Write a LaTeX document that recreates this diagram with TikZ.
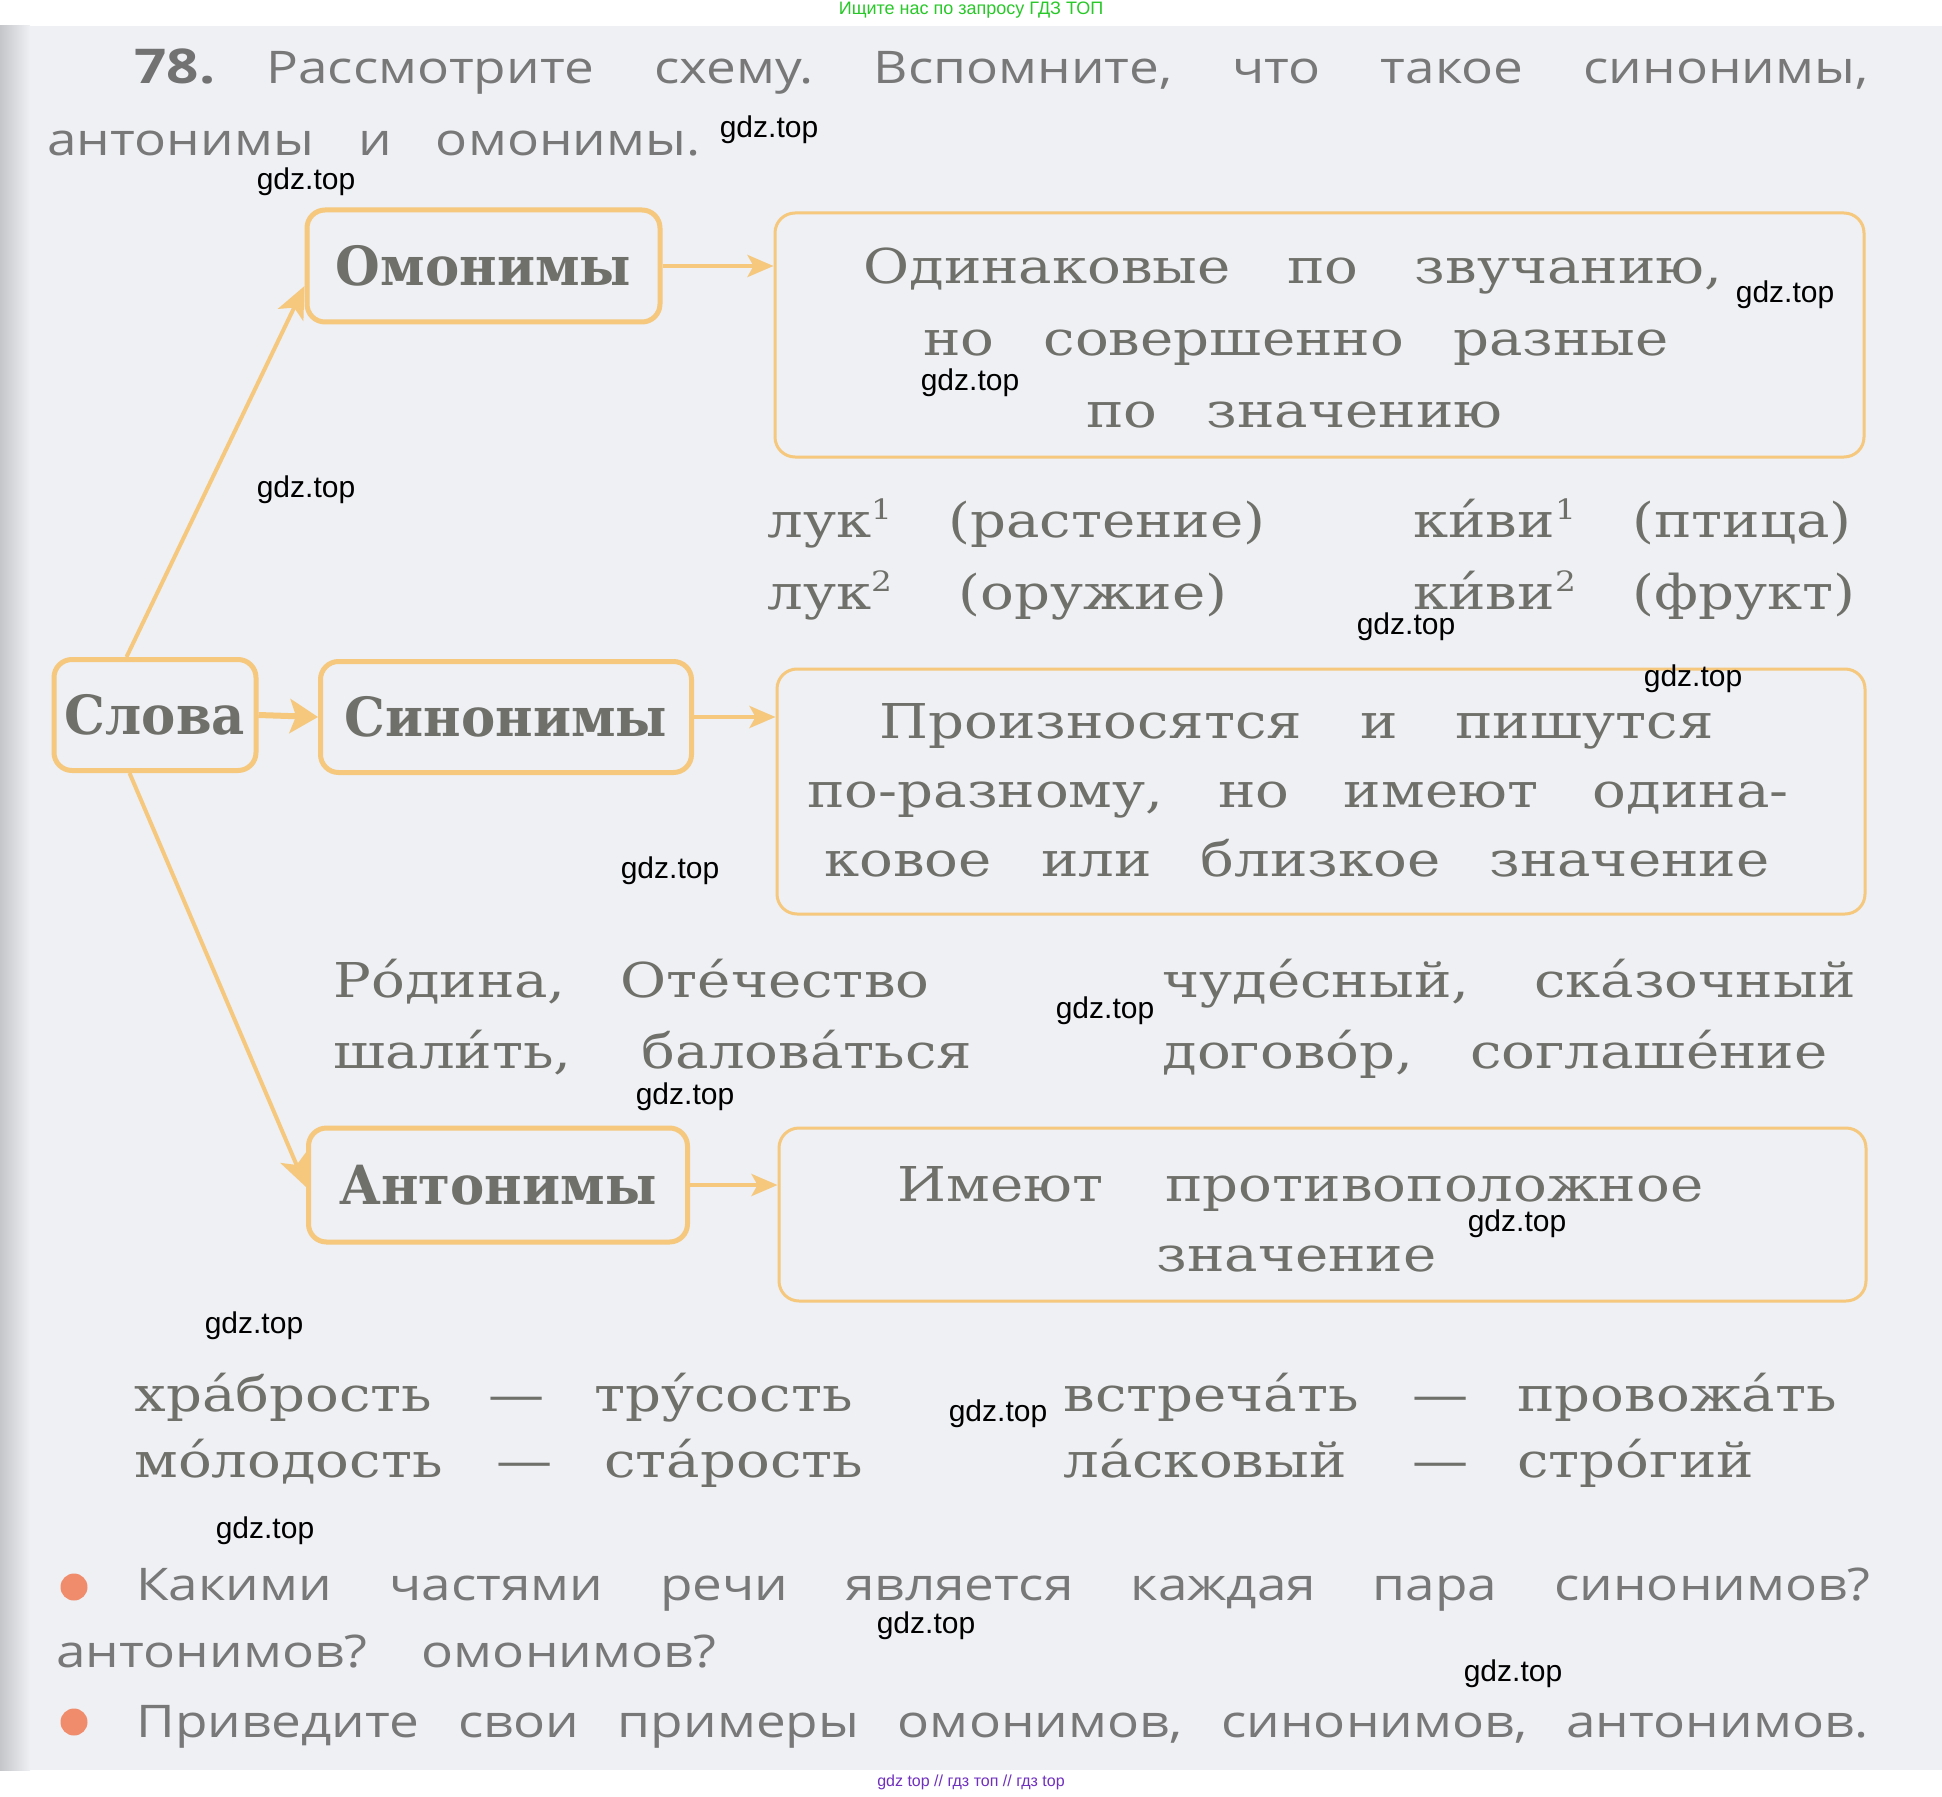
\documentclass[tikz,border=0pt]{standalone}
\usepackage{fontspec}
\setmainfont{DejaVu Serif}
\newfontfamily\schfont[FakeStretch=1.17]{DejaVu Serif}
\newfontfamily\schbold[FakeStretch=0.95]{DejaVu Serif}
\newfontfamily\tsans[FakeStretch=1.18]{Open Sans}
\newfontfamily\wmfont{Liberation Sans}
\usetikzlibrary{arrows.meta,calc}
\definecolor{pagebg}{RGB}{238,240,244}
\definecolor{edgeshade}{RGB}{196,198,202}
\definecolor{boxor}{RGB}{245,200,125}
\definecolor{txtgray}{RGB}{112,112,106}
\definecolor{sansgray}{RGB}{120,120,120}
\definecolor{dotor}{RGB}{240,140,108}
\definecolor{topgreen}{RGB}{40,200,40}
\definecolor{botpurple}{RGB}{112,48,190}
\newcommand\spr[2]{\makebox[#1pt][s]{#2}}
\newcommand\supn[1]{\raisebox{0.36em}{\fontsize{14}{14}\selectfont #1}}
\tikzset{
  smallbox/.style={draw=boxor, line width=2.5pt, rounded corners=9pt, inner sep=0pt,
    text=txtgray, font=\schbold\bfseries\fontsize{27}{30}\selectfont},
  bigbox/.style={draw=boxor, line width=1.5pt, rounded corners=10pt, inner sep=0pt},
  conn/.style={draw=boxor, line width=2pt, -{Stealth[length=13pt,width=11pt,inset=3pt]}},
  boldconn/.style={draw=boxor, line width=3pt, -{Stealth[length=14pt,width=17pt,inset=3pt]}},
  diagconn/.style={draw=boxor, line width=2pt, -{Stealth[length=16pt,width=14pt,inset=4pt]}},
  body/.style={inner sep=0pt, anchor=base west, text=txtgray, font=\schfont\fontsize{24}{28}\selectfont},
  sanst/.style={inner sep=0pt, anchor=base west, text=sansgray, font=\tsans\fontsize{22.5}{26}\selectfont},
  wm/.style={inner sep=0pt, text=black, font=\wmfont\fontsize{15}{17}\selectfont},
  qdot/.style={fill=dotor, draw=none, circle, inner sep=0pt, minimum size=13.5pt},
}
\frenchspacing
\begin{document}
\begin{tikzpicture}[x=0.5pt,y=-0.5pt]
\useasboundingbox (0,0) rectangle (1942,1797);
\fill[white] (0,0) rectangle (1942,1797);
\fill[pagebg] (0,26) rectangle (1942,1770);
\fill[left color=edgeshade, right color=pagebg] (0,26) rectangle (30,1770);

% header / footer
\node[inner sep=0pt, text=topgreen, font=\wmfont\fontsize{9}{10}\selectfont] (hdr) at (971,10) {Ищите нас по запросу ГДЗ ТОП};
\node[inner sep=0pt, text=botpurple, font=\wmfont\fontsize{8}{9}\selectfont] (ftr) at (971,1782) {gdz top // гдз топ // гдз top};

% title
\node[sanst, font=\tsans\bfseries\fontsize{24}{28}\selectfont, text=sansgray!95!black] (num) at (134,84) {78.};
\node[sanst] (t1) at (266,84) {\frenchspacing\spr{801}{Рассмотрите схему. Вспомните, что такое синонимы,}};
\node[sanst] (t2) at (47,156) {\spr{326.5}{антонимы и омонимы.}};

% boxes
\node[smallbox, minimum width=176.5pt, minimum height=56pt] (omon) at (483.5,266) {Омонимы};
\node[smallbox, minimum width=101pt, minimum height=55.5pt] (slova) at (155,715) {Слова};
\node[smallbox, minimum width=185.5pt, minimum height=55.5pt] (sinon) at (506,717) {Синонимы};
\node[smallbox, minimum width=189.5pt, minimum height=57pt] (anton) at (498,1185) {Антонимы};
\node[bigbox, minimum width=544.5pt, minimum height=122pt] (big1) at (1319.5,335) {};
\node[bigbox, minimum width=544pt, minimum height=122.5pt] (big2) at (1321,791.5) {};
\node[bigbox, minimum width=543.5pt, minimum height=86.5pt] (big3) at (1322.5,1214.5) {};

% connectors
\draw[boldconn] (slova.east) -- (sinon.west);
\draw[conn] (omon.east) -- (omon.east -| big1.west);
\draw[conn] (sinon.east) -- (sinon.east -| big2.west);
\draw[conn] (anton.east) -- (anton.east -| big3.west);
\draw[diagconn] ($(slova.north west)+(75,0)$) -- ($(omon.west)+(0,20)$);
\draw[diagconn] ($(slova.south west)+(78,0)$) -- ($(anton.west)+(0,2)$);

% box 1 text
\node[body] (b1a) at (863,284) {\spr{429.5}{Одинаковые по звучанию,}};
\node[body] (b1b) at (923,356) {\spr{372.5}{но совершенно разные}};
\node[body] (b1c) at (1086,427) {\spr{208}{по значению}};

% homonym examples
\node[body] (h1) at (767,537) {лук\supn{1}};
\node[body] (h2) at (948,537) {(растение)};
\node[body] (h3) at (1413,537) {ки^^^^0301ви\supn{1}};
\node[body] (h4) at (1632,537) {(птица)};
\node[body] (h5) at (767,609) {лук\supn{2}};
\node[body] (h6) at (958,609) {(оружие)};
\node[body] (h7) at (1413,609) {ки^^^^0301ви\supn{2}};
\node[body] (h8) at (1632,609) {(фрукт)};

% box 2 text
\node[body] (b2a) at (879,738) {\spr{417}{Произносятся и пишутся}};
\node[body] (b2b) at (807,807) {\spr{490.5}{по-разному, но имеют одина-}};
\node[body] (b2c) at (824,876) {\spr{472.5}{ковое или близкое значение}};

% synonym examples
\node[body] (s1) at (333,997) {\spr{298}{Ро^^^^0301дина, Оте^^^^0301чество}};
\node[body] (s2) at (333,1068) {\spr{319.5}{шали^^^^0301ть, балова^^^^0301ться}};
\node[body] (s3) at (1162,997) {\spr{346.5}{чуде^^^^0301сный, ска^^^^0301зочный}};
\node[body] (s4) at (1162,1068) {\spr{332.5}{догово^^^^0301р, соглаше^^^^0301ние}};

% box 3 text
\node[body] (b3a) at (897,1201) {\spr{403}{Имеют противоположное}};
\node[body, anchor=base] (b3b) at (1296.5,1271) {значение};

% antonym examples
\node[body] (a1) at (134,1411) {хра^^^^0301брость};
\node[body, anchor=base] (a1d) at (517,1411) {—};
\node[body] (a2) at (594,1411) {тру^^^^0301сость};
\node[body] (a3) at (134,1477) {мо^^^^0301лодость};
\node[body, anchor=base] (a3d) at (525,1477) {—};
\node[body] (a4) at (604,1477) {ста^^^^0301рость};
\node[body] (a5) at (1063,1411) {встреча^^^^0301ть};
\node[body, anchor=base] (a5d) at (1441,1411) {—};
\node[body] (a6) at (1517,1411) {провожа^^^^0301ть};
\node[body] (a7) at (1063,1477) {ла^^^^0301сковый};
\node[body, anchor=base] (a7d) at (1441,1477) {—};
\node[body] (a8) at (1517,1477) {стро^^^^0301гий};

% questions
\node[qdot] (d1) at (74,1587) {};
\node[sanst] (q1) at (136,1600) {\spr{867}{Какими частями речи является каждая пара синонимов?}};
\node[sanst] (q2) at (56,1667) {\spr{330}{антонимов? омонимов?}};
\node[qdot] (d2) at (74,1722) {};
\node[sanst] (q3) at (136,1737) {\spr{866}{Приведите свои примеры омонимов, синонимов, антонимов.}};

% watermarks
\node[wm] (w1) at (769,130) {gdz.top};
\node[wm] (w2) at (306,182) {gdz.top};
\node[wm] (w3) at (1785,295) {gdz.top};
\node[wm] (w4) at (970,383) {gdz.top};
\node[wm] (w5) at (306,490) {gdz.top};
\node[wm] (w6) at (1406,627) {gdz.top};
\node[wm] (w7) at (1693,679) {gdz.top};
\node[wm] (w8) at (670,871) {gdz.top};
\node[wm] (w9) at (1105,1011) {gdz.top};
\node[wm] (w10) at (685,1097) {gdz.top};
\node[wm] (w11) at (1517,1224) {gdz.top};
\node[wm] (w12) at (254,1326) {gdz.top};
\node[wm] (w13) at (998,1414) {gdz.top};
\node[wm] (w14) at (265,1531) {gdz.top};
\node[wm] (w15) at (926,1626) {gdz.top};
\node[wm] (w16) at (1513,1674) {gdz.top};
\end{tikzpicture}
\end{document}
